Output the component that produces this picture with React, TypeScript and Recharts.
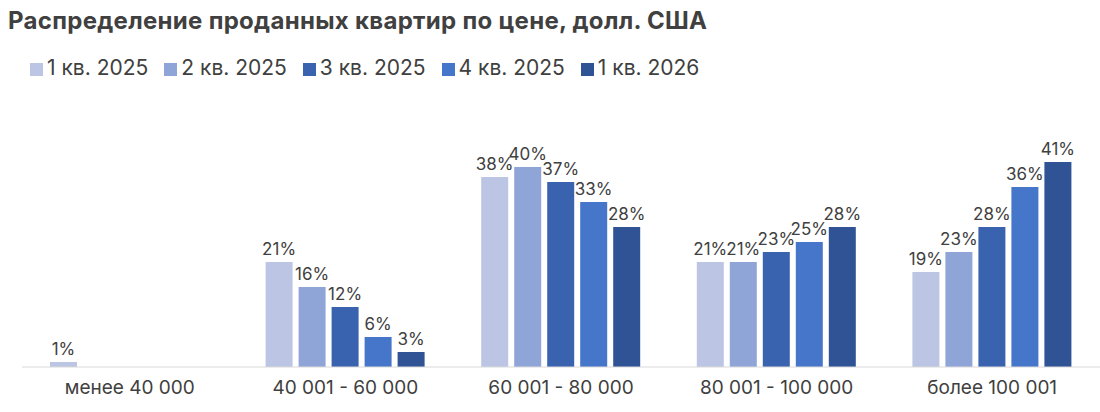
import React from "react";
import { BarChart, Bar, XAxis, YAxis, Legend } from "recharts";

const categories = ["менее 40 000", "40 001 - 60 000", "60 001 - 80 000", "80 001 - 100 000", "более 100 001"];
const q1_2025 = [1, 21, 38, 21, 19];
const q2_2025 = [0, 16, 40, 21, 23];
const q3_2025 = [0, 12, 37, 23, 28];
const q4_2025 = [0, 6, 33, 25, 36];
const q1_2026 = [0, 3, 28, 28, 41];
const seriesNames = ["1 кв. 2025", "2 кв. 2025", "3 кв. 2025", "4 кв. 2025", "1 кв. 2026"];
const colors = ["#BCC5E3", "#8FA4D7", "#3A63AF", "#4676CA", "#2F5394"];

const allSeries = [q1_2025, q2_2025, q3_2025, q4_2025, q1_2026];
const data = categories.map((c, i) => {
  const row: any = { name: c };
  allSeries.forEach((s, j) => (row["s" + j] = s[i]));
  return row;
});

const font = "Inter, 'Open Sans', sans-serif";

const renderLabel = (props: any) => {
  const { x, y, width, value } = props;
  return (
    <text x={x + width / 2} y={y - 7} textAnchor="middle" fill="#404040" fontSize={17} fontFamily={font}>
      {value + "%"}
    </text>
  );
};

export default function App() {
  return (
    <div style={{ position: "absolute", left: 0, top: 0, width: 1100, height: 412, fontFamily: font, background: "#fff" }}>
      <div style={{ position: "absolute", left: 8, top: 6, fontSize: 24, fontWeight: 700, color: "#404040", letterSpacing: 0.3 }}>
        Распределение проданных квартир по цене, долл. США
      </div>
      <BarChart width={1100} height={412} data={data} margin={{ top: 117, right: 0, left: 22, bottom: 15 }} barGap={6} barCategoryGap={28}>
        <XAxis dataKey="name" axisLine={{ stroke: "#d9d9d9" }} tickLine={false} tick={{ fill: "#404040", fontSize: 19, fontFamily: font }} dy={6} height={30} />
        <YAxis hide domain={[0, 45]} />
        <Legend
          verticalAlign="top"
          align="left"
          iconType="square"
          iconSize={13}
          itemSorter={null as any}
          wrapperStyle={{ top: 55, left: 30, fontSize: 21, fontFamily: font }}
          formatter={(v: string) => <span style={{ color: "#404040", marginRight: 6 }}>{v}</span>}
        />
        {seriesNames.map((n, j) => (
          <Bar key={n} dataKey={"s" + j} name={n} fill={colors[j]} isAnimationActive={false} label={renderLabel} />
        ))}
      </BarChart>
    </div>
  );
}
